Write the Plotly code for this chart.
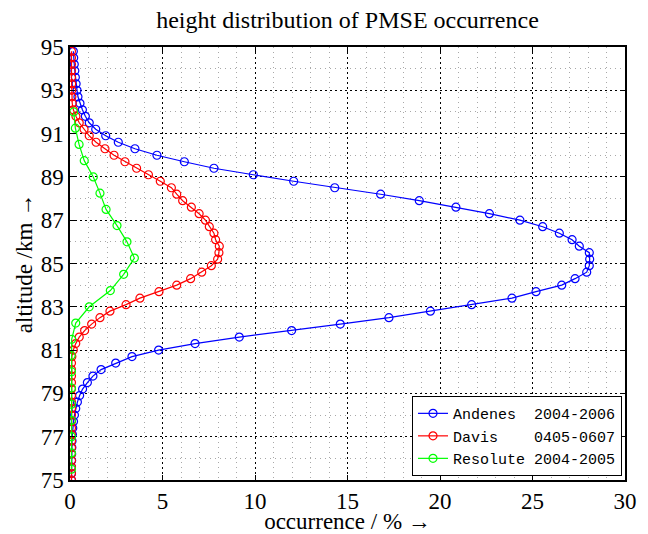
import plotly.graph_objects as go

# Andenes 2004-2006 (altitude grid 75.0 .. 94.8 km, step 0.3 km)
andenes_alt = [round(75.0 + 0.3 * k, 1) for k in range(67)]
andenes_occ = [0.08, 0.08, 0.08, 0.09, 0.09, 0.10, 0.11, 0.13, 0.15, 0.19,
               0.24, 0.31, 0.40, 0.52, 0.68, 0.94, 1.24, 1.68, 2.47, 3.35,
               4.79, 6.76, 9.15, 11.98, 14.61, 17.24, 19.48, 21.71, 23.89, 25.19,
               26.58, 27.30, 27.93, 28.07, 28.09, 28.07, 27.53, 27.14, 26.45, 25.55,
               24.32, 22.67, 20.86, 18.88, 16.79, 14.31, 12.09, 9.91, 7.78, 6.18,
               4.70, 3.51, 2.61, 1.93, 1.39, 1.04, 0.83, 0.67, 0.54, 0.43,
               0.38, 0.33, 0.29, 0.26, 0.23, 0.20, 0.18]

# Davis 0405-0607 (same altitude grid)
davis_alt = [round(75.0 + 0.3 * k, 1) for k in range(67)]
davis_occ = [0.08, 0.08, 0.08, 0.08, 0.08, 0.08, 0.08, 0.08, 0.08, 0.08,
             0.08, 0.08, 0.08, 0.08, 0.08, 0.08, 0.08, 0.08, 0.08, 0.10,
             0.18, 0.31, 0.50, 0.79, 1.17, 1.62, 2.16, 3.03, 3.78, 4.81,
             5.77, 6.52, 7.12, 7.64, 7.98, 8.05, 8.07, 7.87, 7.78, 7.53,
             7.32, 6.98, 6.56, 6.09, 5.77, 5.48, 4.88, 4.24, 3.60, 2.97,
             2.38, 1.89, 1.41, 1.04, 0.76, 0.50, 0.32, 0.18, 0.12, 0.10,
             0.09, 0.09, 0.08, 0.08, 0.08, 0.08, 0.08]

# Resolute 2004-2005 (altitude grid 75.5 .. 92.0 km, step 0.75 km)
resolute_alt = [75.5 + 0.75 * k for k in range(23)]
resolute_occ = [0.08, 0.08, 0.08, 0.08, 0.08, 0.08, 0.08, 0.06, 0.09, 0.31,
                1.04, 2.18, 2.90, 3.48, 3.08, 2.54, 1.95, 1.62, 1.26, 0.77,
                0.49, 0.29, 0.20]

series_names = ["Andenes\u00a0\u00a02004-2006",
                "Davis\u00a0\u00a0\u00a0\u00a00405-0607",
                "Resolute\u00a02004-2005"]
series_colors = ["#0000FF", "#FF0000", "#00FF00"]

x_ticks = [0, 5, 10, 15, 20, 25, 30]
y_ticks = [75, 77, 79, 81, 83, 85, 87, 89, 91, 93, 95]

fig = go.Figure()
for (xs, ys), name, col in zip([(andenes_occ, andenes_alt), (davis_occ, davis_alt),
                                (resolute_occ, resolute_alt)], series_names, series_colors):
    fig.add_trace(go.Scatter(
        x=xs, y=ys, name=name, mode="lines+markers",
        line=dict(color=col, width=1.2),
        marker=dict(symbol="circle-open", size=8, color=col, line=dict(width=1.2)),
    ))

serif = "Liberation Serif"
axis_common = dict(
    showline=True, linecolor="black", linewidth=1.5, mirror="allticks",
    ticks="inside", ticklen=5, tickcolor="black", tickwidth=1,
    showgrid=True, gridcolor="black", griddash="2px,3px", gridwidth=1,
    zeroline=False, automargin=False,
    tickfont=dict(family=serif, size=23, color="black"),
    minor=dict(showgrid=True, gridcolor="#a8a8a8", griddash="1px,4px", gridwidth=1, dtick=1),
)

# the page body has an 8px margin, so the figure is 8px smaller than the window
fig.update_layout(
    width=640, height=526,
    margin=dict(l=62, r=23, t=39, b=54),
    paper_bgcolor="white", plot_bgcolor="white",
    title=dict(text="height distribution of PMSE occurrence",
               font=dict(family=serif, size=24, color="black"),
               x=0.5, xref="paper", y=1 - 12 / 526, yref="container", yanchor="middle"),
    xaxis=dict(range=[0, 30], tickvals=x_ticks,
               title=dict(text="occurrence / % \u2192", font=dict(family=serif, size=23, color="black"), standoff=0),
               **axis_common),
    yaxis=dict(range=[75, 95], tickvals=y_ticks,
               title=dict(text="altitude /km \u2192", font=dict(family=serif, size=23, color="black"), standoff=2),
               **axis_common),
    legend=dict(x=0.9946, xanchor="right", y=0.009, yanchor="bottom",
                bgcolor="white", bordercolor="black", borderwidth=1,
                font=dict(family="Liberation Mono", size=15, color="black"),
                tracegroupgap=0, itemwidth=30),
    showlegend=True,
)

fig.write_html("out.html")
